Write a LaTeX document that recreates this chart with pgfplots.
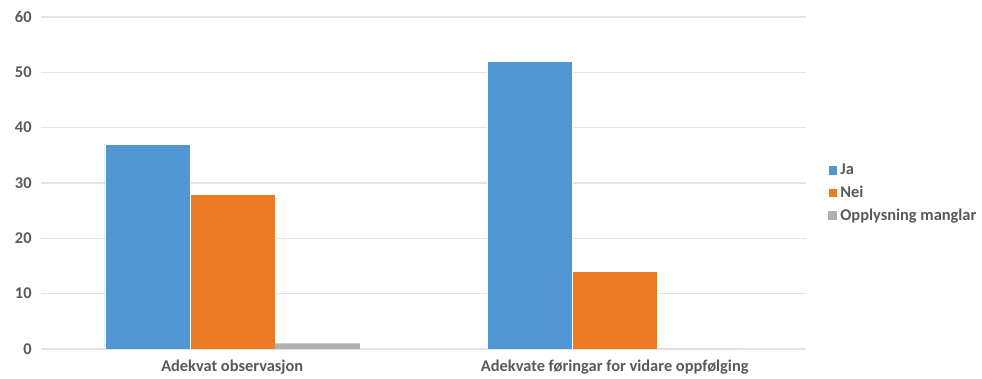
\documentclass[border=0pt]{standalone}
\usepackage{pgfplots}
\pgfplotsset{compat=1.18}
\usepackage{fontspec}
\setmainfont{Carlito}
\definecolor{cJa}{HTML}{5096D2}
\definecolor{cNei}{HTML}{EC7A25}
\definecolor{cOpp}{HTML}{B0B0B0}
\definecolor{txt}{HTML}{595959}
\definecolor{gridc}{HTML}{E3E3E3}
\begin{document}
\begin{tikzpicture}
\begin{axis}[
  scale only axis,
  width=573.75pt, height=249pt,
  ybar=0pt, bar width=63.75pt,
  xmin=-0.5, xmax=1.5,
  ymin=0, ymax=60,
  ytick={0,10,...,60},
  xtick=data,
  xticklabels={Adekvat observasjon, Adekvate føringar for vidare oppfølging},
  axis line style={draw=none},
  major tick length=0pt,
  ymajorgrids, grid style={gridc, line width=0.9pt},
  tick label style={font=\fontsize{12.3}{14}\selectfont\bfseries, text=txt},
  /pgf/number format/assume math mode=true,
  yticklabel style={xshift=-3.5pt},
  xticklabel style={yshift=-4.5pt},
  legend style={draw=none, at={(1.028,0.47)}, anchor=west,
    font=\fontsize{12.3}{14}\selectfont\bfseries, text=txt,
    row sep=3pt, inner sep=0pt},
  legend cell align=left,
  legend image code/.code={\fill[#1] (0pt,-3.6pt) rectangle (7.2pt,3.6pt);},
]
\addplot[fill=cJa, draw=white, line width=0.3pt] coordinates {(0,37) (1,52)};
\addplot[fill=cNei, draw=white, line width=0.3pt] coordinates {(0,28) (1,14)};
\addplot[fill=cOpp, draw=none] coordinates {(0,1) (1,0)};
\legend{Ja, Nei, Opplysning manglar}
\end{axis}
\path (current axis.south west) ++(-30.75pt,-20.25pt) coordinate (bl);
\path (current axis.north east) ++(132pt,12.75pt) coordinate (tr);
\useasboundingbox (bl) rectangle (tr);
\end{tikzpicture}
\end{document}
